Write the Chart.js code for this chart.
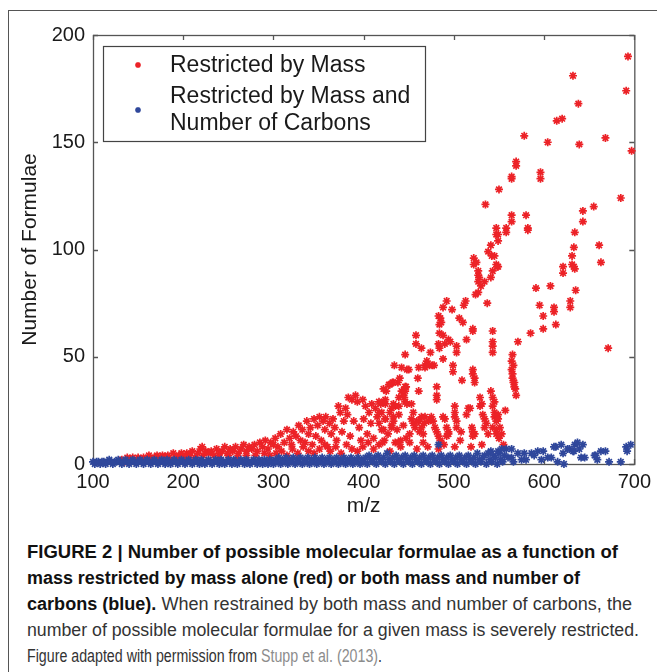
<!DOCTYPE html>
<html>
<head>
<meta charset="utf-8">
<script src="https://cdn.jsdelivr.net/npm/chart.js@4.4.1/dist/chart.umd.min.js"></script>
<style>
  html, body { margin: 0; padding: 0; background: #fff; }
  body { width: 657px; height: 672px; position: relative; overflow: hidden; font-family: "Liberation Sans", Arial, sans-serif; }
  #frame { position: absolute; left: 8px; top: 10px; width: 700px; height: 700px; border-left: 1.5px solid #555; border-top: 1.5px solid #555; }
  #wrap { position: absolute; left: 0; top: 0; width: 657px; height: 525px; }
  #caption { position: absolute; left: 27px; top: 539px; font-size: 17.5px; line-height: 26px; color: #333;
             font-family: "Liberation Sans Narrow", "Liberation Sans", Arial, sans-serif; }
  #caption .ln { display: block; white-space: nowrap; width: max-content; transform-origin: 0 50%; }
  #caption b { color: #111; }
  #caption .ref { color: #8c8c8c; }
</style>
</head>
<body>
<div id="frame"></div>
<div id="wrap"><canvas id="scatterChart" width="657" height="525"></canvas></div>
<div id="caption">
  <span class="ln" data-w="591"><b>FIGURE 2 | Number of possible molecular formulae as a function of</b></span>
  <span class="ln" data-w="553"><b>mass restricted by mass alone (red) or both mass and number of</b></span>
  <span class="ln" data-w="605"><b>carbons (blue).</b> When restrained by both mass and number of carbons, the</span>
  <span class="ln" data-w="612">number of possible molecular formulae for a given mass is severely restricted.</span>
  <span class="ln" data-w="355">Figure adapted with permission from <span class="ref">Stupp et al. (2013)</span>.</span>
</div>
<script>
// axis ticks
var xTicks = [100, 200, 300, 400, 500, 600, 700];
var yTicks = [0, 50, 100, 150, 200];

var seriesNames = ["Restricted by Mass", "Restricted by Mass and Number of Carbons"];

// [m/z, number of formulae] - red (mass only)
var redPoints = [
  [132,2],[135,1],[138,3],[141,2],[144,3],[147,1],[150,3],[153,2],[156,3],[159,2],[162,4],[165,2],[168,3],[171,4],
  [174,2],[177,4],[180,3],[183,4],[186,2],[189,5],[192,3],[195,4],[198,5],[201,3],[204,5],[207,4],[210,6],[213,3],
  [216,5],[219,7],[221,8],[222,4],[225,6],[228,5],[231,6],[234,4],[237,7],[240,5],[243,6],[246,8],[249,5],[252,7],
  [255,6],[258,8],[261,5],[264,7],[267,9],[270,6],[273,8],[276,7],[279,9],[282,6],[285,10],[288,8],[291,11],[294,7],
  [297,10],[300,9],[240,3],[250,4],[260,3],[270,4],[280,4],[290,5],[296,4],
  [302,12],[305,8],[308,14],[312,10],[315,16],[318,12],[320,9],[322,15],[325,13],[328,18],[330,11],[332,16],[335,10],
  [337,20],[339,14],[341,17],[343,9],[345,21],[347,13],[349,18],[351,22],[353,11],[355,20],[357,16],[358,22],[360,8],
  [362,19],[364,14],[366,21],[368,17],[370,11],[372,27],[374,24],[376,15],[378,20],[380,26],[382,23],[383,31],[385,13],
  [387,30],[389,20],[391,32],[393,29],[395,17],[397,11],[399,30],[400,21],[402,27],[404,14],[406,24],[408,19],[409,28],
  [411,12],[413,26],[415,22],[417,19],[419,28],[420,24],[422,16],[424,21],[425,34],[427,14],[429,37],[431,18],[433,38],
  [435,27],[437,16],[439,23],[441,11],[442,34],[444,32],[446,36],
  [303,5],[309,6],[315,4],[321,7],[327,5],[333,8],[339,6],[345,5],[351,7],[357,9],[363,6],[369,8],[375,5],[381,9],
  [387,7],[393,6],[399,8],[405,10],[411,7],[417,9],[423,11],[429,6],[435,10],[441,8],[447,12],[459,7],[471,8],[489,9],
  [501,8],[519,8],[531,9],
  [458,60],[458,56],[464,54],[474,52],[470,48],[476,46],[478,46],[473,46],[488,49],[446,51],[499,46],[499,43],[521,44],
  [521,42],[523,40],[523,38],[468,46],[468,45],[461,45],[434,46],[442,45],[448,44],[450,44],[440,40],[438,38],[460,40],
  [432,38],[428,37],[422,35],[509,39],[481,36],[481,32],[481,30],[461,34],[447,36],[446,34],[445,31],[446,29],[448,28],
  [424,30],[422,29],[424,28],[433,28],[431,26],[429,24],[433,22],[433,20],[431,17],[417,29],[417,24],[439,31],[439,27],
  [453,28],[455,24],[453,21],[464,22],[461,20],[464,17],[462,15],[475,22],[477,20],[479,17],[481,15],[483,13],[485,11],
  [467,19],[466,10],[485,10],[488,22],[492,17],[494,15],[494,14],[501,27],[501,24],[501,22],[503,20],[503,17],[514,23],
  [516,26],[518,26],[508,15],[507,11],[520,17],[521,15],[523,14],[521,13],[529,31],[531,28],[529,27],[532,23],[534,21],
  [536,19],[534,17],[541,34],[543,31],[545,29],[543,27],[545,24],[545,22],[547,20],[543,17],[547,14],[547,16],[538,14],
  [557,25],[420,16],[421,10],[439,10],[451,14],[451,10],[444,18],[424,21],[455,19],[457,17],[549,23],[549,21],[551,17],
  [553,14],[550,12],[555,9],[459,20],[468,22],[472,20],[490,21],[492,13],[483,7],[466,14],
  [565,51],[564,48],[564,44],[565,42],[565,40],[567,38],[568,35],[569,32],[566,38],[567,36],[566,46],
  [483,69],[485,68],[486,66],[484,65],[506,68],[510,66],[521,63],[521,62],[543,62],[484,61],[488,60],[494,58],[490,56],
  [496,57],[483,56],[484,54],[514,58],[503,55],[503,52],[543,57],[543,55],[543,52],[492,76],[488,73],[498,72],[513,76],
  [511,74],[537,75],
  [522,96],[522,93],[525,94],[527,90],[527,88],[528,87],[527,85],[530,83],[534,85],[527,80],[524,79],[535,121],[550,128],
  [541,102],[538,99],[542,97],[547,93],[548,92],[545,97],[543,90],[541,87],[547,110],[547,107],[558,110],[558,108],
  [564,116],[564,113],[580,116],[582,110],[582,109],[564,134],[564,133],[569,141],[569,139],[578,153],[596,136],
  [596,133],[604,150],[614,160],[620,161],[632,181],[638,168],[639,149],[668,152],[691,174],[693,190],[697,146],
  [685,124],[655,120],[643,118],[643,113],[634,108],[633,101],[631,97],[631,93],[633,92],[634,91],[621,92],[621,89],
  [661,102],[663,94],[549,92],[549,104],[549,107],[591,82],[607,83],[635,81],[629,76],[629,73],[595,74],[611,73],
  [611,71],[599,69],[613,65],[599,63],[585,61],[571,57],[671,54]
];

// blue (mass and number of carbons)
var bluePoints = [
  [100,1],[102,0],[104,1],[106,1],[108,0],[110,1],[112,1],[114,0],[116,1],[118,2],[120,1],[122,0],[124,1],[126,1],
  [128,2],[130,1],[132,0],[134,1],[136,2],[138,1],[140,0],[142,1],[144,2],[146,1],[148,0],[150,1],[152,2],[154,1],
  [156,0],[158,1],[160,2],[162,1],[164,0],[166,1],[168,2],[170,1],[172,0],[174,1],[176,2],[178,1],[180,0],[182,2],
  [184,1],[186,0],[188,1],[190,2],[192,1],[194,0],[196,1],[198,2],[200,1],[202,0],[204,1],[206,2],[208,1],[210,0],
  [212,1],[214,2],[216,1],[218,0],[220,2],[222,1],[224,0],[226,1],[228,2],[230,1],[232,0],[234,1],[236,2],[238,1],
  [240,0],[242,2],[244,1],[246,0],[248,1],[250,2],[252,1],[254,0],[256,2],[258,1],[260,0],[262,1],[264,2],[266,1],
  [268,0],[270,2],[272,1],[274,0],[276,1],[278,2],[280,1],[282,0],[284,2],[286,1],[288,0],[290,2],[292,1],[294,0],
  [296,2],[298,1],[300,0],
  [302,2],[304,1],[306,3],[308,0],[310,2],[312,1],[314,3],[316,0],[318,2],[320,1],[322,3],[324,0],[326,2],[328,1],
  [330,3],[332,0],[334,2],[336,1],[338,3],[340,0],[342,2],[344,1],[346,3],[348,0],[350,2],[352,1],[354,3],[356,0],
  [358,2],[360,1],[362,3],[364,0],[366,2],[368,1],[370,3],[372,0],[374,2],[376,1],[378,3],[380,0],[382,2],[384,1],
  [386,3],[388,0],[390,2],[392,1],[394,3],[396,0],[398,2],[400,1],
  [402,3],[404,0],[406,4],[408,2],[410,1],[412,3],[414,0],[416,4],[418,2],[420,1],[422,3],[424,0],[426,5],[428,2],
  [430,1],[432,3],[434,0],[436,4],[438,2],[440,1],[442,3],[444,0],[446,4],[448,2],[450,1],[452,3],[454,0],[456,4],
  [458,2],[460,1],[462,3],[464,0],[466,4],[468,2],[470,1],[472,3],[474,0],[476,4],[478,2],[480,1],[482,3],[483,9],
  [484,0],[486,4],[488,2],[490,1],[492,3],[494,0],[496,4],[498,2],[500,1],[502,3],[504,0],[506,4],[508,2],[510,1],
  [512,3],[514,0],[516,4],[518,2],[520,1],[522,3],[524,0],[526,5],[528,2],[530,1],[532,3],[534,4],[536,0],[538,5],
  [540,2],[541,6],[542,1],[544,4],[546,3],[548,0],[550,5],[552,2],[554,1],[556,4],[558,7],[560,3],
  [549,6],[553,7],[564,7],[564,3],[566,1],[571,5],[578,5],[580,2],[586,5],[593,6],[599,6],[597,2],[604,3],[608,3],
  [613,8],[619,9],[621,5],[622,0],[628,7],[632,6],[634,9],[637,10],[639,7],[643,9],[641,3],[645,3],[656,4],[659,2],
  [663,6],[668,6],[672,1],[685,1],[691,8],[692,6],[696,9],[575,2],[589,4],[611,8],[615,1],[626,7],[633,6],[657,4]
];

function drawStar(ctx, x, y, r, color) {
  ctx.save();
  ctx.strokeStyle = color;
  ctx.lineWidth = 1.5;
  ctx.beginPath();
  for (var k = 0; k < 4; k++) {
    var a = k * Math.PI / 4;
    ctx.moveTo(x - r * Math.cos(a), y - r * Math.sin(a));
    ctx.lineTo(x + r * Math.cos(a), y + r * Math.sin(a));
  }
  ctx.stroke();
  ctx.restore();
}

// box round the axes with inward ticks on all four sides
var axesBox = {
  id: 'axesBox',
  beforeDatasetsDraw: function (chart) {
    var ctx = chart.ctx, a = chart.chartArea;
    var xs = chart.scales.x, ys = chart.scales.y;
    ctx.save();
    ctx.strokeStyle = '#555';
    ctx.lineWidth = 1.3;
    ctx.strokeRect(a.left + 0.5, a.top + 0.5, a.right - a.left, a.bottom - a.top);
    ctx.beginPath();
    xTicks.forEach(function (v) {
      var px = Math.round(xs.getPixelForValue(v)) + 0.5;
      ctx.moveTo(px, a.top); ctx.lineTo(px, a.top + 5);
      ctx.moveTo(px, a.bottom); ctx.lineTo(px, a.bottom - 5);
    });
    yTicks.forEach(function (v) {
      var py = Math.round(ys.getPixelForValue(v)) + 0.5;
      ctx.moveTo(a.left, py); ctx.lineTo(a.left + 5, py);
      ctx.moveTo(a.right, py); ctx.lineTo(a.right - 5, py);
    });
    ctx.stroke();
    ctx.restore();
  },
  afterDraw: function (chart) {
    var ctx = chart.ctx;
    ctx.save();
    ctx.fillStyle = '#fff';
    ctx.fillRect(103, 46, 322, 95);
    ctx.strokeStyle = '#444';
    ctx.lineWidth = 1.2;
    ctx.strokeRect(103.5, 46.5, 322, 95);
    drawStar(ctx, 138, 65, 3, '#ec2227');
    drawStar(ctx, 138, 110, 3, '#2f479b');
    ctx.fillStyle = '#1a1a1a';
    ctx.font = '23px "Liberation Sans", Arial, sans-serif';
    ctx.textBaseline = 'middle';
    ctx.fillText("Restricted by Mass", 170, 66);
    ctx.fillText("Restricted by Mass and", 170, 97);
    ctx.fillText("Number of Carbons", 170, 124);
    ctx.restore();
  }
};

var chrt = document.getElementById("scatterChart").getContext("2d");
var scatterChart = new Chart(chrt, {
  type: 'scatter',
  data: {
    datasets: [
      {
        label: seriesNames[0],
        data: redPoints.map(function (p) { return { x: p[0], y: p[1] }; }),
        pointStyle: 'star',
        pointRadius: 4,
        borderWidth: 1.7,
        borderColor: '#ec2227',
        backgroundColor: '#ec2227',
        clip: false,
        order: 2
      },
      {
        label: seriesNames[1],
        data: bluePoints.map(function (p) { return { x: p[0], y: p[1] }; }),
        pointStyle: 'star',
        pointRadius: 4,
        borderWidth: 1.7,
        borderColor: '#2f479b',
        backgroundColor: '#2f479b',
        clip: false,
        order: 1
      }
    ]
  },
  options: {
    responsive: false,
    animation: false,
    layout: { padding: { left: 0, top: 35, right: 20, bottom: 0 } },
    plugins: { legend: { display: false }, tooltip: { enabled: false } },
    scales: {
      x: {
        type: 'linear',
        min: 100, max: 700,
        grid: { display: false, drawTicks: false },
        border: { display: false },
        afterFit: function (s) { s.height = 61; },
        afterBuildTicks: function (s) { s.ticks = xTicks.map(function (v) { return { value: v }; }); },
        ticks: { color: '#1a1a1a', padding: 6, font: { family: 'Liberation Sans', size: 20 }, maxRotation: 0 },
        title: { display: true, text: 'm/z', color: '#1a1a1a', padding: { top: 0, bottom: 6 }, font: { family: 'Liberation Sans', size: 21 } }
      },
      y: {
        min: 0, max: 200,
        grid: { display: false, drawTicks: false },
        border: { display: false },
        afterFit: function (s) { s.width = 93; },
        afterBuildTicks: function (s) { s.ticks = yTicks.map(function (v) { return { value: v }; }); },
        ticks: { color: '#1a1a1a', padding: 8, font: { family: 'Liberation Sans', size: 20 } },
        title: { display: true, text: 'Number of Formulae', color: '#1a1a1a', padding: { top: 18, bottom: 0 }, font: { family: 'Liberation Sans', size: 21 } }
      }
    }
  },
  plugins: [axesBox]
});

// squeeze each caption line to the width it takes in the figure
document.querySelectorAll('#caption .ln').forEach(function (ln) {
  var w = ln.getBoundingClientRect().width;
  var target = parseFloat(ln.getAttribute('data-w'));
  ln.style.transform = 'scaleX(' + (target / w).toFixed(4) + ')';
});
</script>
</body>
</html>
